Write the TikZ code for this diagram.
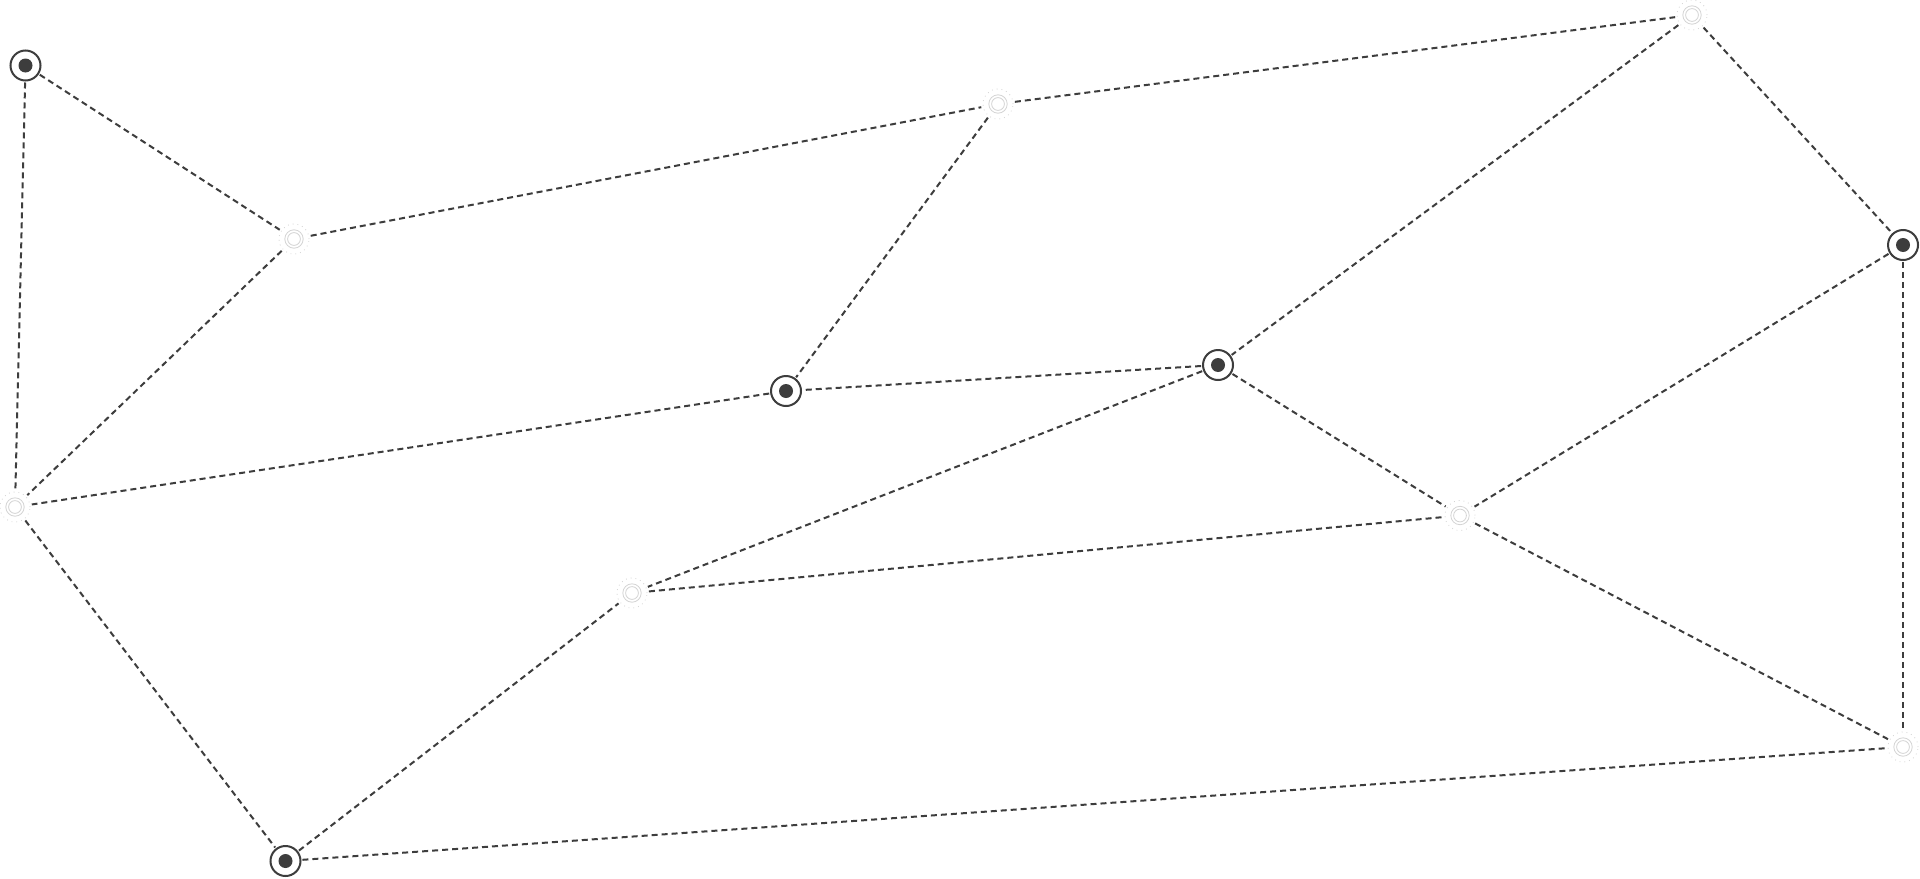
\documentclass[tikz,border=0pt]{standalone}
\usetikzlibrary{calc}
\definecolor{ink}{HTML}{3D3D3D}
\definecolor{faint}{HTML}{D4D4D4}
\begin{document}
\begin{tikzpicture}[x=0.5pt,y=-0.5pt,
  darknode/.style={circle,draw=ink,line width=1pt,fill=white,minimum size=15pt,inner sep=0pt,outer sep=1pt},
  lightnode/.style={circle,draw=faint,line width=0.4pt,dotted,minimum size=15pt,inner sep=0pt,outer sep=1pt},
  edge/.style={draw=ink,line width=1pt,dash pattern=on 3pt off 2pt}]
\fill[white] (0,0) rectangle (1920,878);
\useasboundingbox (0,0) rectangle (1920,878);
\node[darknode]  (A) at (25.5,65.5) {};
\node[lightnode] (B) at (294,239) {};
\node[lightnode] (C) at (15,507) {};
\node[darknode]  (D) at (786,391) {};
\node[lightnode] (E) at (998,104) {};
\node[lightnode] (F) at (1692,15) {};
\node[darknode]  (G) at (1218,365) {};
\node[darknode]  (H) at (1903,245) {};
\node[lightnode] (I) at (1460,515.5) {};
\node[lightnode] (J) at (632,593) {};
\node[lightnode] (L) at (1903,747) {};
\node[darknode]  (K) at (285.5,861) {};
\foreach \n in {A,D,G,H,K}{\fill[ink] (\n) circle (3.5pt);}
\foreach \n in {B,C,E,F,I,J,L}{
  \draw[faint,line width=0.4pt] (\n) circle (4.6pt);
  \draw[faint,line width=0.4pt] (\n) circle (3.2pt);}
\draw[edge] (A) -- (B);
\draw[edge] (A) -- (C);
\draw[edge] (B) -- (C);
\draw[edge] (B) -- (E);
\draw[edge] (E) -- (D);
\draw[edge] (E) -- (F);
\draw[edge] (F) -- (G);
\draw[edge] (F) -- (H);
\draw[edge] (H) -- (L);
\draw[edge] (H) -- (I);
\draw[edge] (G) -- (D);
\draw[edge] (G) -- (I);
\draw[edge] (G) -- (J);
\draw[edge] (D) -- (C);
\draw[edge] (C) -- (K);
\draw[edge] (K) -- (J);
\draw[edge] (J) -- (I);
\draw[edge] (I) -- (L);
\draw[edge] (K) -- (L);
\end{tikzpicture}
\end{document}
